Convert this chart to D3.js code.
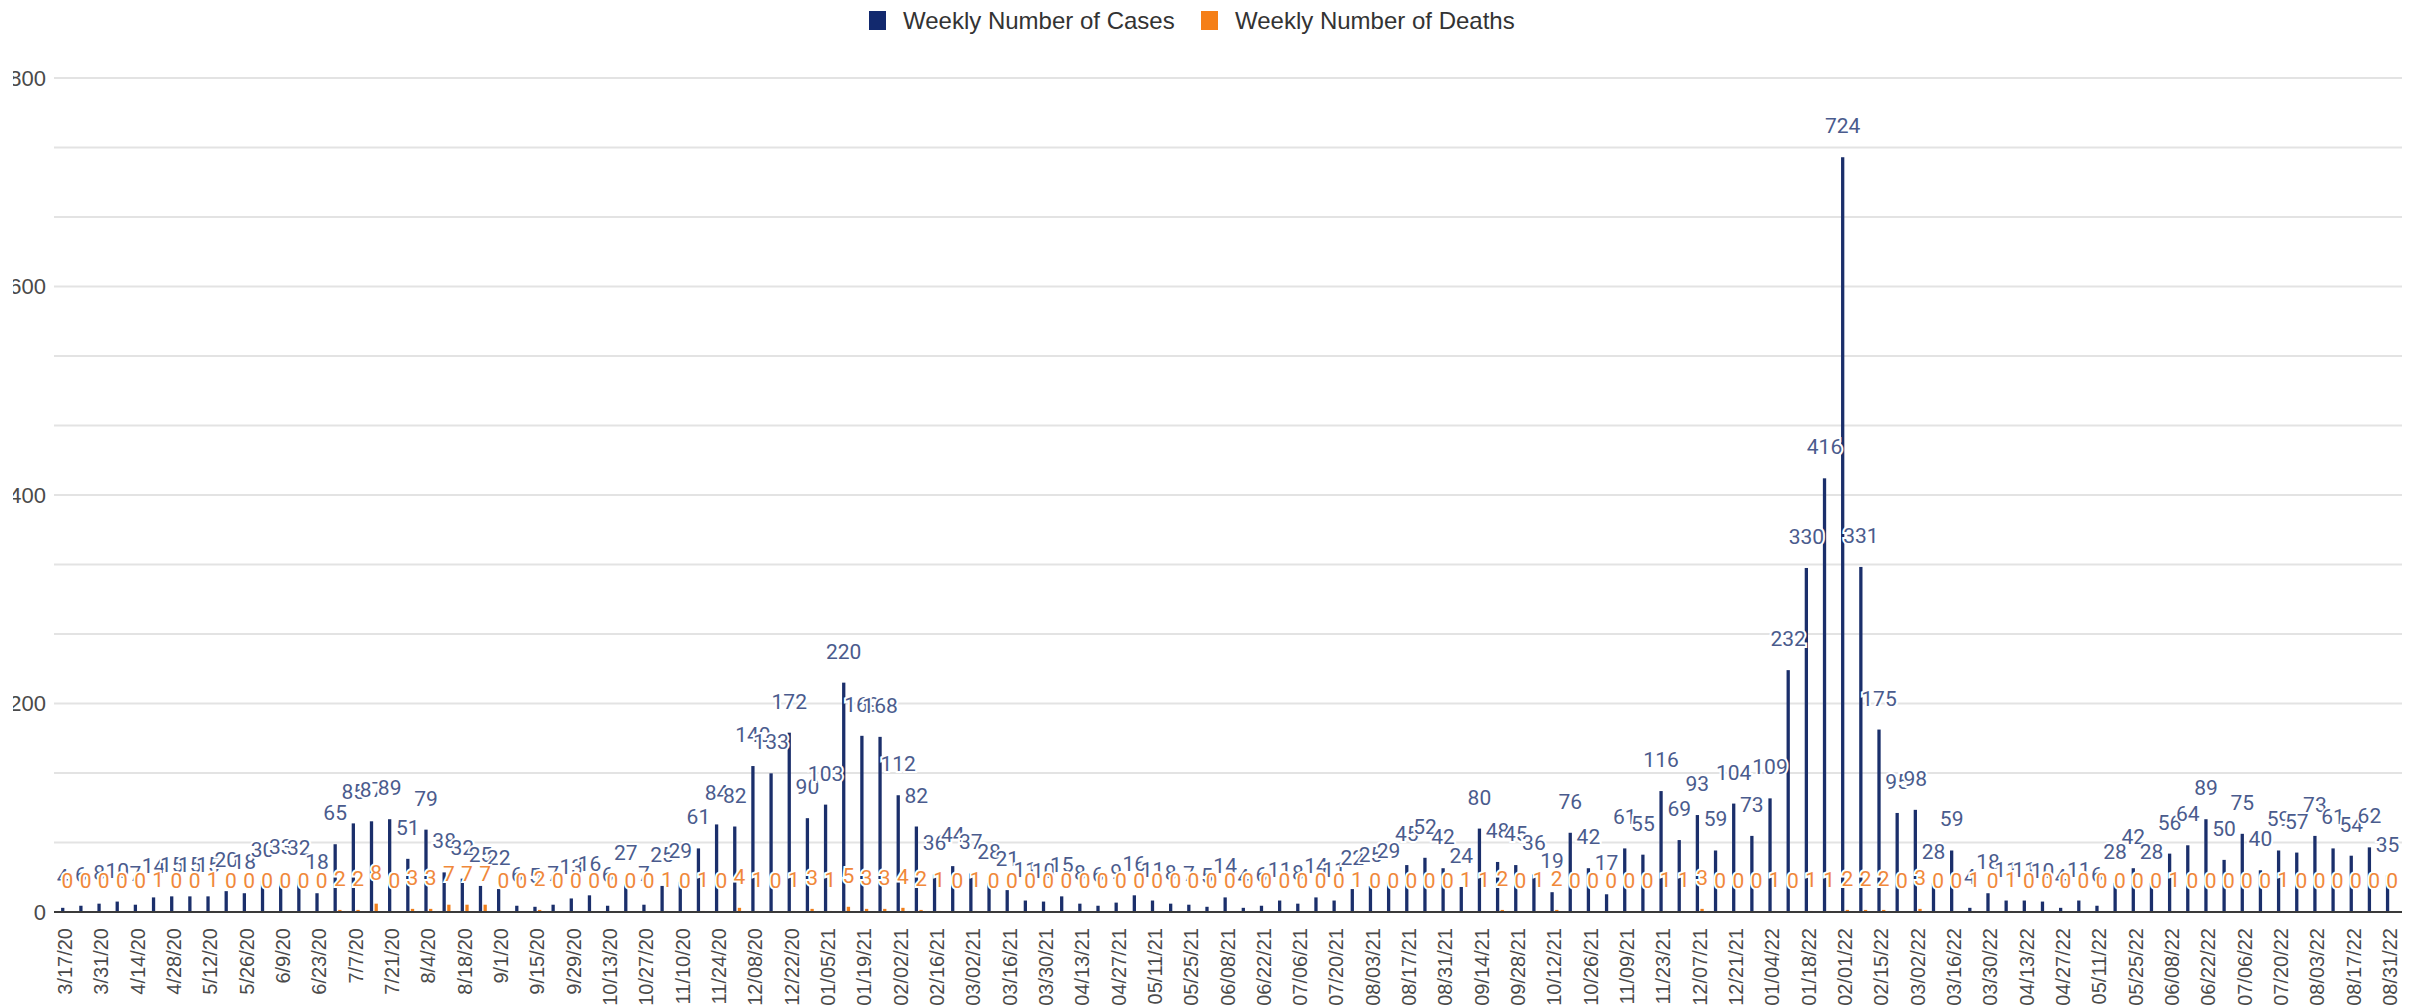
<!DOCTYPE html>
<html>
<head>
<meta charset="utf-8">
<script src="https://cdn.jsdelivr.net/npm/d3@7"></script>
<style>
  html, body { margin: 0; padding: 0; background: #ffffff; }
  svg { display: block; }
</style>
</head>
<body>
<svg id="chart" width="2420" height="1006"></svg>
<script>
// Week start dates (one entry per bar)
const weeks = [
  "3/17/20","3/24/20","3/31/20","4/7/20","4/14/20","4/21/20","4/28/20","5/5/20","5/12/20","5/19/20",
  "5/26/20","6/2/20","6/9/20","6/16/20","6/23/20","6/30/20","7/7/20","7/14/20","7/21/20","7/28/20",
  "8/4/20","8/11/20","8/18/20","8/25/20","9/1/20","9/8/20","9/15/20","9/22/20","9/29/20","10/6/20",
  "10/13/20","10/20/20","10/27/20","11/3/20","11/10/20","11/17/20","11/24/20","12/01/20","12/08/20","12/15/20",
  "12/22/20","12/29/20",
  "01/05/21","01/12/21","01/19/21","01/26/21","02/02/21","02/09/21","02/16/21","02/23/21","03/02/21","03/09/21",
  "03/16/21","03/23/21","03/30/21","04/06/21","04/13/21","04/20/21","04/27/21","05/04/21","05/11/21","05/18/21",
  "05/25/21","06/01/21","06/08/21","06/15/21","06/22/21","06/29/21","07/06/21","07/13/21","07/20/21","07/27/21",
  "08/03/21","08/10/21","08/17/21","08/24/21","08/31/21","09/07/21","09/14/21","09/21/21","09/28/21","10/05/21",
  "10/12/21","10/19/21","10/26/21","11/02/21","11/09/21","11/16/21","11/23/21","11/30/21","12/07/21","12/14/21",
  "12/21/21","12/28/21",
  "01/04/22","01/11/22","01/18/22","01/25/22","02/01/22","02/08/22","02/15/22","02/23/22","03/02/22","03/09/22",
  "03/16/22","03/23/22","03/30/22","04/06/22","04/13/22","04/20/22","04/27/22","05/04/22","05/11/22","05/18/22",
  "05/25/22","06/01/22","06/08/22","06/15/22","06/22/22","06/29/22","07/06/22","07/13/22","07/20/22","07/27/22",
  "08/03/22","08/10/22","08/17/22","08/24/22","08/31/22"
];

// Weekly number of cases
const cases = [
  4, 6, 8, 10, 7, 14, 15, 15, 15, 20, 18, 30, 33, 32,
  18, 65, 85, 87, 89, 51, 79, 38, 32, 25, 22, 6, 5, 7, 13, 16,
  6, 27, 7, 25, 29, 61, 84, 82, 140, 133, 172, 90,
  103, 220, 169, 168, 112, 82, 36, 44, 37, 28, 21, 11,
  10, 15, 8, 6, 9, 16, 11, 8, 7, 5, 14, 4,
  6, 11, 8, 14, 11, 22, 25, 29, 45, 52, 42, 24,
  80, 48, 45, 36, 19, 76, 42, 17, 61, 55, 116, 69,
  93, 59, 104, 73, 109, 232, 330, 416, 724, 331, 175, 95,
  98, 28, 59, 4, 18, 11, 11, 10, 4, 11, 6, 28,
  42, 28, 56, 64, 89, 50, 75, 40, 59, 57, 73, 61, 54, 62, 35
];

// Weekly number of deaths
const deaths = [
  0, 0, 0, 0, 0, 1, 0, 0, 1, 0, 0, 0, 0, 0,
  0, 2, 2, 8, 0, 3, 3, 7, 7, 7, 0, 0, 2, 0, 0, 0,
  0, 0, 0, 1, 0, 1, 0, 4, 1, 0, 1, 3,
  1, 5, 3, 3, 4, 2, 1, 0, 1, 0, 0, 0,
  0, 0, 0, 0, 0, 0, 0, 0, 0, 0, 0, 0,
  0, 0, 0, 0, 0, 1, 0, 0, 0, 0, 0, 1,
  1, 2, 0, 1, 2, 0, 0, 0, 0, 0, 1, 1,
  3, 0, 0, 0, 1, 0, 1, 1, 2, 2, 2, 0,
  3, 0, 0, 1, 0, 1, 0, 0, 0, 0, 0, 0,
  0, 0, 1, 0, 0, 0, 0, 0, 1, 0, 0, 0, 0, 0, 0
];

const seriesNames = ["Weekly Number of Cases", "Weekly Number of Deaths"];
const yTickValues = [0, 200, 400, 600, 800];

// ---- styling ----
const barColor = { cases: "#1b2f6b", deaths: "#f07f1c" };
const labelColor = { cases: "#4a5b8d", deaths: "#f0883a" };
const legendColor = ["#12296e", "#f57f17"];

const svg = d3.select("#chart");
const plotLeft = 56, plotRight = 2399, plotTop = 78, plotBottom = 912;

const x = d3.scaleBand()
  .domain(d3.range(weeks.length))
  .range([plotLeft, plotRight])
  .paddingInner(0.56)
  .paddingOuter(0.28);

const xSeries = d3.scaleBand()
  .domain(["cases", "deaths"])
  .range([0, x.bandwidth()])
  .paddingInner(0.3);

const y = d3.scaleLinear().domain([0, 800]).range([plotBottom, plotTop]);

// gridlines: labelled every 200, with two lighter lines between
const gridValues = d3.range(13).map(i => i * 800 / 12);
svg.append("g")
  .selectAll("line")
  .data(gridValues.filter(v => v > 0))
  .join("line")
  .attr("x1", 54).attr("x2", 2402)
  .attr("y1", d => y(d)).attr("y2", d => y(d))
  .attr("stroke", "#e3e3e3")
  .attr("stroke-width", 2);

// y axis labels, clipped at the left edge of the frame
svg.append("defs").append("clipPath").attr("id", "yclip")
  .append("rect").attr("x", 13).attr("y", 0).attr("width", 60).attr("height", 1006);

const yAxis = d3.axisLeft(y).tickValues(yTickValues).tickSize(0).tickPadding(0);
const yHolder = svg.append("g").attr("clip-path", "url(#yclip)");
const yg = yHolder.append("g")
  .attr("transform", "translate(46,0)")
  .call(yAxis);
yg.select(".domain").remove();
yg.selectAll("text")
  .attr("font-family", "'Liberation Sans', Arial, sans-serif")
  .attr("font-size", 22)
  .attr("fill", "#4a4a4a");

// x axis: category labels for every other week, rotated
const xAxis = d3.axisBottom(x)
  .tickValues(d3.range(0, weeks.length, 2))
  .tickFormat(i => weeks[i])
  .tickSize(0)
  .tickPadding(0);
const xg = svg.append("g")
  .attr("transform", `translate(0,${plotBottom})`)
  .call(xAxis);
xg.select(".domain").remove();
xg.selectAll("text")
  .attr("font-family", "'Liberation Sans', Arial, sans-serif")
  .attr("font-size", 20)
  .attr("fill", "#4a4a4a")
  .attr("text-anchor", "end")
  .attr("transform", "translate(0,16) rotate(-90)")
  .attr("x", 0).attr("y", 0)
  .attr("dy", "0.35em");

// bars
const rows = weeks.map((w, i) => ({ i, cases: cases[i], deaths: deaths[i] }));
const barG = svg.append("g");
["cases", "deaths"].forEach(key => {
  barG.append("g")
    .selectAll("rect")
    .data(rows)
    .join("rect")
    .attr("x", d => x(d.i) + xSeries(key))
    .attr("width", xSeries.bandwidth())
    .attr("y", d => y(d[key]))
    .attr("height", d => plotBottom - y(d[key]))
    .attr("fill", barColor[key]);
});

// baseline
svg.append("line")
  .attr("x1", 54).attr("x2", 2402)
  .attr("y1", plotBottom).attr("y2", plotBottom)
  .attr("stroke", "#3a3a3a")
  .attr("stroke-width", 2);

// value annotations with white halo
const labelG = svg.append("g");
["cases", "deaths"].forEach(key => {
  labelG.append("g")
    .selectAll("text")
    .data(rows)
    .join("text")
    .attr("x", d => x(d.i) + xSeries(key) + xSeries.bandwidth() / 2)
    .attr("y", d => y(d[key]) - 24)
    .attr("text-anchor", "middle")
    .attr("font-family", "Roboto, 'Noto Sans', sans-serif")
    .attr("font-size", 21)
    .attr("fill", labelColor[key])
    .attr("stroke", "#ffffff")
    .attr("stroke-width", 4)
    .attr("paint-order", "stroke")
    .text(d => d[key]);
});

// legend
const legend = svg.append("g");
const legendItems = [
  { name: seriesNames[0], color: legendColor[0], x: 869 },
  { name: seriesNames[1], color: legendColor[1], x: 1201 }
];
legendItems.forEach(item => {
  legend.append("rect")
    .attr("x", item.x).attr("y", 11)
    .attr("width", 17).attr("height", 19)
    .attr("fill", item.color);
  legend.append("text")
    .attr("x", item.x + 34).attr("y", 29)
    .attr("font-family", "'Liberation Sans', Arial, sans-serif")
    .attr("font-size", 24)
    .attr("fill", "#333333")
    .text(item.name);
});
</script>
</body>
</html>
